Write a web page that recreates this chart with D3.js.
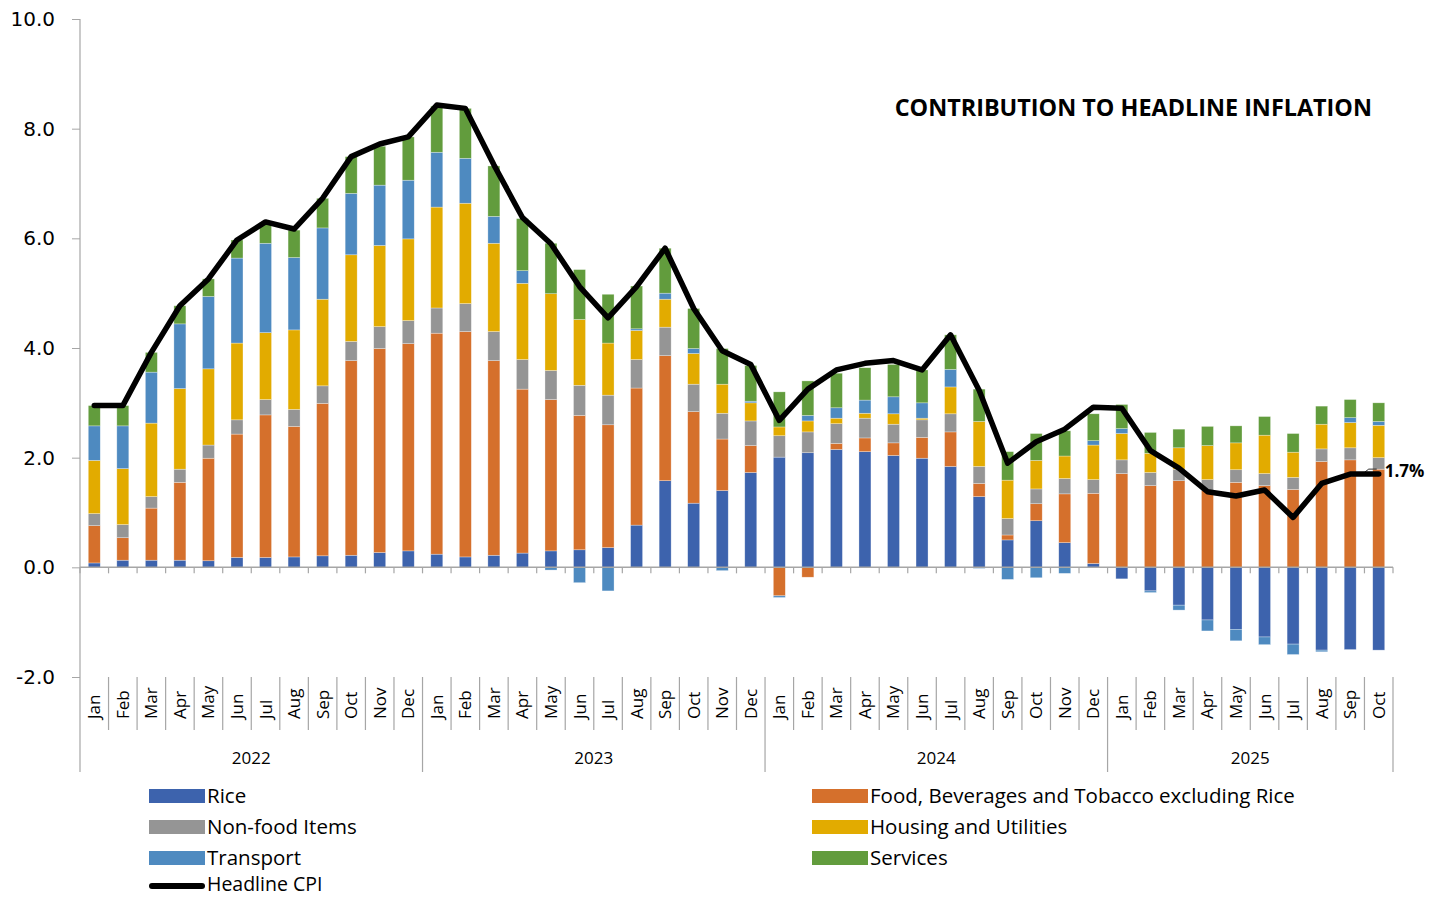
<!DOCTYPE html>
<html>
<head>
<meta charset="utf-8">
<script src="https://cdn.jsdelivr.net/npm/d3@7"></script>
<style>
  body { margin: 0; background: #fff; }
  svg { display: block; }
</style>
</head>
<body>
<div id="chart"></div>
<script>
// Months Jan 2022 - Oct 2025
var years = ["2022", "2023", "2024", "2025"];
var monthNames = ["Jan","Feb","Mar","Apr","May","Jun","Jul","Aug","Sep","Oct","Nov","Dec"];
var months = [];
years.forEach(function(y) {
	monthNames.forEach(function(m) {
		months.push({ year: y, month: m });
	});
});
months = months.slice(0, 46);

// contributions (percentage points)
var rice = [0.08,0.13,0.13,0.13,0.12,0.18,0.18,0.19,0.21,0.22,0.27,0.30,
	0.24,0.19,0.22,0.26,0.30,0.32,0.36,0.77,1.58,1.17,1.40,1.73,
	2.01,2.09,2.15,2.11,2.04,1.99,1.84,1.29,0.50,0.85,0.45,0.07,
	-0.21,-0.43,-0.69,-0.96,-1.13,-1.27,-1.40,-1.51,-1.50,-1.51];
var food = [0.68,0.41,0.95,1.42,1.87,2.25,2.60,2.38,2.78,3.55,3.72,3.78,
	4.03,4.11,3.55,2.99,2.76,2.45,2.24,2.50,2.28,1.67,0.94,0.49,
	-0.52,-0.18,0.11,0.25,0.23,0.38,0.63,0.24,0.09,0.31,0.89,1.28,
	1.71,1.49,1.58,1.40,1.55,1.49,1.42,1.93,1.96,1.79];
var nonFood = [0.22,0.24,0.21,0.24,0.24,0.26,0.28,0.31,0.32,0.35,0.40,0.42,
	0.46,0.51,0.53,0.54,0.53,0.55,0.54,0.52,0.52,0.50,0.47,0.45,
	0.39,0.38,0.36,0.36,0.34,0.32,0.33,0.31,0.30,0.27,0.28,0.25,
	0.25,0.24,0.21,0.20,0.23,0.22,0.22,0.23,0.22,0.21];
var housing = [0.97,1.02,1.34,1.47,1.39,1.40,1.22,1.45,1.58,1.58,1.48,1.49,
	1.84,1.83,1.61,1.39,1.40,1.20,0.95,0.53,0.51,0.56,0.53,0.33,
	0.16,0.20,0.10,0.09,0.19,0.03,0.49,0.82,0.70,0.52,0.41,0.63,
	0.48,0.35,0.39,0.62,0.49,0.70,0.46,0.45,0.46,0.59];
var transport = [0.63,0.78,0.93,1.18,1.32,1.55,1.63,1.32,1.30,1.12,1.10,1.07,
	1.00,0.82,0.49,0.23,-0.05,-0.28,-0.43,0.03,0.11,0.09,-0.06,0.03,
	-0.03,0.10,0.19,0.24,0.31,0.28,0.32,-0.02,-0.22,-0.19,-0.11,0.08,
	0.09,-0.03,-0.09,-0.20,-0.21,-0.14,-0.19,-0.03,0.09,0.07];
var services = [0.37,0.37,0.36,0.33,0.32,0.33,0.38,0.50,0.54,0.67,0.71,0.79,
	0.84,0.91,0.92,0.95,0.92,0.91,0.89,0.78,0.82,0.73,0.65,0.65,
	0.64,0.63,0.63,0.59,0.59,0.60,0.63,0.59,0.52,0.49,0.46,0.49,
	0.44,0.38,0.34,0.35,0.31,0.34,0.34,0.33,0.33,0.34];
var headline = [2.95,2.95,3.92,4.77,5.26,5.97,6.30,6.17,6.73,7.49,7.72,7.85,
	8.43,8.37,7.34,6.38,5.90,5.12,4.55,5.12,5.82,4.72,3.95,3.70,
	2.68,3.25,3.60,3.72,3.77,3.60,4.24,3.23,1.90,2.29,2.52,2.92,
	2.90,2.13,1.81,1.38,1.30,1.41,0.91,1.53,1.70,1.70];

var yTicks = [-2, 0, 2, 4, 6, 8, 10];

var seriesNames = ["Rice", "Food, Beverages and Tobacco excluding Rice", "Non-food Items",
	"Housing and Utilities", "Transport", "Services"];
var seriesValues = [rice, food, nonFood, housing, transport, services];
var colors = ["#3d63ad", "#d5702c", "#959595", "#e2ab00", "#4e8ac0", "#629c3d"];

// Set margins and dimensions
var WIDTH = 1445,
	HEIGHT = 898;
var plotLeft = 80, plotRight = 1393, plotTop = 19, plotBottom = 677;

// build table for d3.stack
var table = months.map(function(m, i) {
	var row = { i: i };
	seriesNames.forEach(function(s, k) { row[s] = seriesValues[k][i]; });
	return row;
});

var stack = d3.stack()
	.keys(seriesNames)
	.offset(d3.stackOffsetDiverging);
var stacked = stack(table);

var xScale = d3.scaleBand()
	.domain(d3.range(months.length))
	.range([plotLeft, plotRight])
	.paddingInner(0.58)
	.paddingOuter(0.29);
var yScale = d3.scaleLinear().domain([-2, 10]).range([plotBottom, plotTop]);

var svg = d3.select("#chart").append("svg")
	.attr("width", WIDTH)
	.attr("height", HEIGHT);

var axisColor = "#a6a6a6";

// bars
svg.append("g").selectAll("g")
	.data(stacked)
	.enter().append("g")
	.attr("fill", function(d, k) { return colors[k]; })
	.selectAll("rect")
	.data(function(d) { return d; })
	.enter().append("rect")
	.attr("x", function(d) { return xScale(d.data.i); })
	.attr("width", xScale.bandwidth())
	.attr("y", function(d) { return yScale(Math.max(d[0], d[1])); })
	.attr("height", function(d) { return Math.abs(yScale(d[0]) - yScale(d[1])); })
	.attr("stroke", "#ffffff")
	.attr("stroke-opacity", 0.5)
	.attr("stroke-width", 0.6);

// Y axis
var yAxis = svg.append("g")
	.attr("transform", "translate(" + plotLeft + ",0)")
	.call(d3.axisLeft(yScale).tickValues(yTicks).tickSize(8).tickPadding(17)
		.tickFormat(function(d) { return d.toFixed(1); }));
yAxis.select(".domain").remove();
yAxis.selectAll("line").attr("stroke", axisColor);
yAxis.selectAll("text")
	.style("font", "20px 'DejaVu Sans'")
	.attr("fill", "#000");

// vertical axis line down through category area
svg.append("line")
	.attr("x1", plotLeft).attr("x2", plotLeft)
	.attr("y1", plotTop).attr("y2", 772)
	.attr("stroke", axisColor).attr("stroke-width", 1.2);

// zero line with small ticks
var zeroY = yScale(0);
svg.append("line")
	.attr("x1", plotLeft).attr("x2", plotRight)
	.attr("y1", zeroY).attr("y2", zeroY)
	.attr("stroke", axisColor).attr("stroke-width", 1.5);
var step = xScale.step();
svg.append("g").selectAll("line")
	.data(d3.range(months.length + 1))
	.enter().append("line")
	.attr("x1", function(i) { return plotLeft + i * step; })
	.attr("x2", function(i) { return plotLeft + i * step; })
	.attr("y1", zeroY).attr("y2", zeroY + 6)
	.attr("stroke", axisColor).attr("stroke-width", 1.2);

// category separators below the plot
svg.append("g").selectAll("line")
	.data(d3.range(1, months.length + 1))
	.enter().append("line")
	.attr("x1", function(i) { return plotLeft + i * step; })
	.attr("x2", function(i) { return plotLeft + i * step; })
	.attr("y1", plotBottom)
	.attr("y2", function(i) { return (i % 12 == 0 || i == months.length) ? 772 : 730; })
	.attr("stroke", axisColor).attr("stroke-width", 1.2);

// month labels
svg.append("g").selectAll("text")
	.data(months)
	.enter().append("text")
	.attr("transform", function(d, i) {
		return "translate(" + (xScale(i) + xScale.bandwidth() / 2 + 6) + ",719) rotate(-90)";
	})
	.style("font", "17px 'Open Sans'")
	.attr("fill", "#000")
	.text(function(d) { return d.month; });

// year labels
years.forEach(function(y, j) {
	var first = j * 12, last = Math.min(j * 12 + 11, months.length - 1);
	var cx = (plotLeft + first * step + plotLeft + (last + 1) * step) / 2;
	svg.append("text")
		.attr("x", cx).attr("y", 764)
		.attr("text-anchor", "middle")
		.style("font", "17px 'Open Sans'")
		.text(y);
});

// headline line
var lineGen = d3.line()
	.x(function(d, i) { return xScale(i) + xScale.bandwidth() / 2; })
	.y(function(d) { return yScale(d); });

svg.append("path")
	.datum(headline)
	.attr("d", lineGen)
	.attr("fill", "none")
	.attr("stroke", "#000")
	.attr("stroke-width", 5.5)
	.attr("stroke-linejoin", "round")
	.attr("stroke-linecap", "round");

// end label with small leader
var lastI = headline.length - 1;
var lx = xScale(lastI) + xScale.bandwidth() / 2;
var ly = yScale(headline[lastI]);
svg.append("path")
	.attr("d", "M" + (lx - 14) + "," + (ly - 2) + "L" + (lx - 10) + "," + (ly - 5) + "L" + (lx - 2) + "," + (ly - 5))
	.attr("fill", "none").attr("stroke", "#000").attr("stroke-width", 0.8);
svg.append("text")
	.attr("x", lx + 6).attr("y", ly + 3)
	.style("font", "bold 17px 'Open Sans'")
	.text(d3.format(".1f")(headline[lastI]) + "%");

// title
svg.append("text")
	.attr("x", 1372).attr("y", 116)
	.attr("text-anchor", "end")
	.style("font", "bold 23.4px 'Open Sans'")
	.text("CONTRIBUTION TO HEADLINE INFLATION");

// legend
var legendItems = [
	{ name: seriesNames[0], color: colors[0], x: 149, y: 796 },
	{ name: seriesNames[2], color: colors[2], x: 149, y: 827 },
	{ name: seriesNames[4], color: colors[4], x: 149, y: 858 },
	{ name: seriesNames[1], color: colors[1], x: 812, y: 796 },
	{ name: seriesNames[3], color: colors[3], x: 812, y: 827 },
	{ name: seriesNames[5], color: colors[5], x: 812, y: 858 }
];
var legend = svg.append("g");
legendItems.forEach(function(d) {
	legend.append("rect")
		.attr("x", d.x).attr("y", d.y - 7)
		.attr("width", 56).attr("height", 14)
		.attr("fill", d.color);
	legend.append("text")
		.attr("x", d.x + 58).attr("y", d.y + 7)
		.style("font", "20.5px 'Open Sans'")
		.text(d.name);
});
legend.append("line")
	.attr("x1", 152).attr("x2", 202)
	.attr("y1", 886).attr("y2", 886)
	.attr("stroke", "#000").attr("stroke-width", 6)
	.attr("stroke-linecap", "round");
legend.append("text")
	.attr("x", 207).attr("y", 891)
	.style("font", "19.5px 'Open Sans'")
	.text("Headline CPI");
</script>
</body>
</html>
